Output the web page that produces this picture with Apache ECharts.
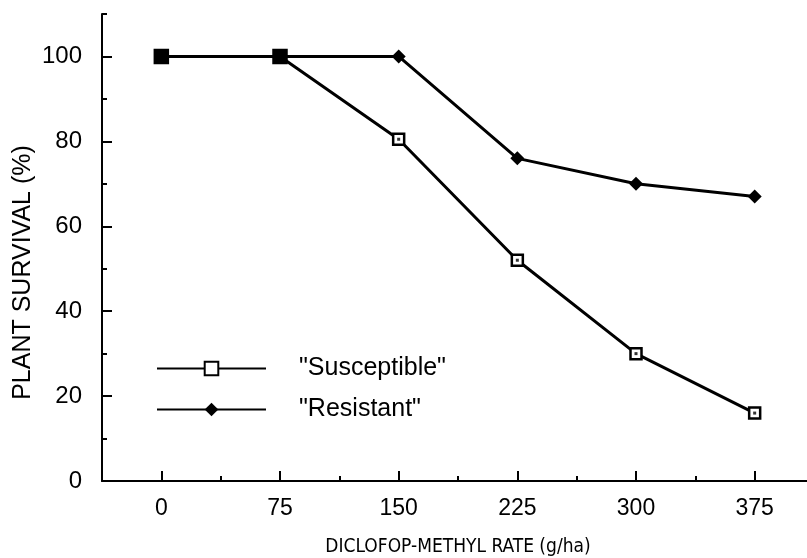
<!DOCTYPE html>
<html>
<head>
<meta charset="utf-8">
<script src="https://cdn.jsdelivr.net/npm/echarts@6/dist/echarts.min.js"></script>
<style>html,body{margin:0;padding:0;background:#fff}#c{width:807px;height:558px}</style>
</head>
<body>
<div id="c"></div>
<script>
var rates = [0, 75, 150, 225, 300, 375];
var susceptible = [100, 100, 80.5, 52, 30, 16];
var resistant = [100, 100, 100, 76, 70, 67];
var xMajorTicks = [0, 75, 150, 225, 300, 375];
var yMajorTicks = [0, 20, 40, 60, 80, 100];
var seriesNames = ['"Susceptible"', '"Resistant"'];

var FONT = 'Liberation Sans';
var NARROW = '"DejaVu Sans Condensed", sans-serif';
var chart = echarts.init(document.getElementById('c'), null, {renderer: 'canvas'});

var susData = rates.map(function (r, i) {
  var item = {value: [r, susceptible[i]]};
  if (susceptible[i] === resistant[i]) {
    item.itemStyle = {color: '#000'};
    item.symbolSize = 13;
  }
  return item;
});
var resData = rates.map(function (r, i) {
  var item = {value: [r, resistant[i]]};
  if (susceptible[i] === resistant[i]) item.symbolSize = 0;
  return item;
});
var dotData = rates.map(function (r, i) { return [r, susceptible[i]]; })
  .filter(function (d, i) { return susceptible[i] !== resistant[i]; });

var axisLine = {show: true, onZero: false, lineStyle: {color: '#000', width: 2}};

chart.setOption({
  animation: false,
  backgroundColor: '#fff',
  grid: {left: 102, width: 712, top: 14, bottom: 77, containLabel: false, outerBoundsMode: 'none'},
  legend: {
    orient: 'vertical', left: 156, top: 356, padding: 0,
    itemWidth: 109, itemHeight: 17, itemGap: 16,
    data: seriesNames,
    textStyle: {fontFamily: FONT, fontSize: 25, color: '#000', padding: [0, 0, 0, 28]}
  },
  xAxis: [{
    type: 'value', min: -37.5, max: 412.5, interval: 37.5,
    axisLine: axisLine,
    axisTick: {show: true, inside: true, length: 5, lineStyle: {color: '#000', width: 2}},
    axisLabel: {
      fontFamily: FONT, fontSize: 23, color: '#000', margin: 16,
      formatter: function (v) { return xMajorTicks.indexOf(v) >= 0 ? String(v) : ''; }
    },
    splitLine: {show: false},
    name: 'DICLOFOP-METHYL RATE (g/ha)', nameLocation: 'middle', nameGap: 57, nameMoveOverlap: false,
    nameTextStyle: {fontFamily: NARROW, fontSize: 19, color: '#000'}
  }, {
    type: 'value', min: -37.5, max: 412.5, interval: 37.5, position: 'bottom',
    axisLine: {show: false, onZero: false},
    axisTick: {show: true, inside: true, length: 10, customValues: xMajorTicks, lineStyle: {color: '#000', width: 2}},
    axisLabel: {show: false}, splitLine: {show: false}
  }],
  yAxis: [{
    type: 'value', min: 0, max: 110, interval: 10,
    axisLine: axisLine,
    axisTick: {show: true, inside: true, length: 5, lineStyle: {color: '#000', width: 2}},
    axisLabel: {
      fontFamily: FONT, fontSize: 24, color: '#000', margin: 20,
      formatter: function (v) { return yMajorTicks.indexOf(v) >= 0 ? String(v) : ''; }
    },
    splitLine: {show: false},
    name: 'PLANT SURVIVAL (%)', nameLocation: 'middle', nameGap: 66, nameMoveOverlap: false,
    nameTextStyle: {fontFamily: FONT, fontSize: 25, color: '#000', padding: [0, 50, 0, 0]}
  }, {
    type: 'value', min: 0, max: 110, interval: 10, position: 'left',
    axisLine: {show: false, onZero: false},
    axisTick: {show: true, inside: true, length: 10, customValues: yMajorTicks, lineStyle: {color: '#000', width: 2}},
    axisLabel: {show: false}, splitLine: {show: false}
  }],
  series: [{
    name: seriesNames[1], type: 'line', data: resData, z: 2,
    symbol: 'diamond', symbolSize: 14,
    lineStyle: {color: '#000', width: 3},
    itemStyle: {color: '#000', borderWidth: 0}
  }, {
    name: seriesNames[0], type: 'line', data: susData, z: 3,
    symbol: 'rect', symbolSize: 11,
    lineStyle: {color: '#000', width: 3},
    itemStyle: {color: '#fff', borderColor: '#000', borderWidth: 2.5}
  }, {
    type: 'scatter', data: dotData, z: 4,
    symbol: 'rect', symbolSize: 3, silent: true,
    itemStyle: {color: '#000'}
  }]
});
</script>
</body>
</html>
